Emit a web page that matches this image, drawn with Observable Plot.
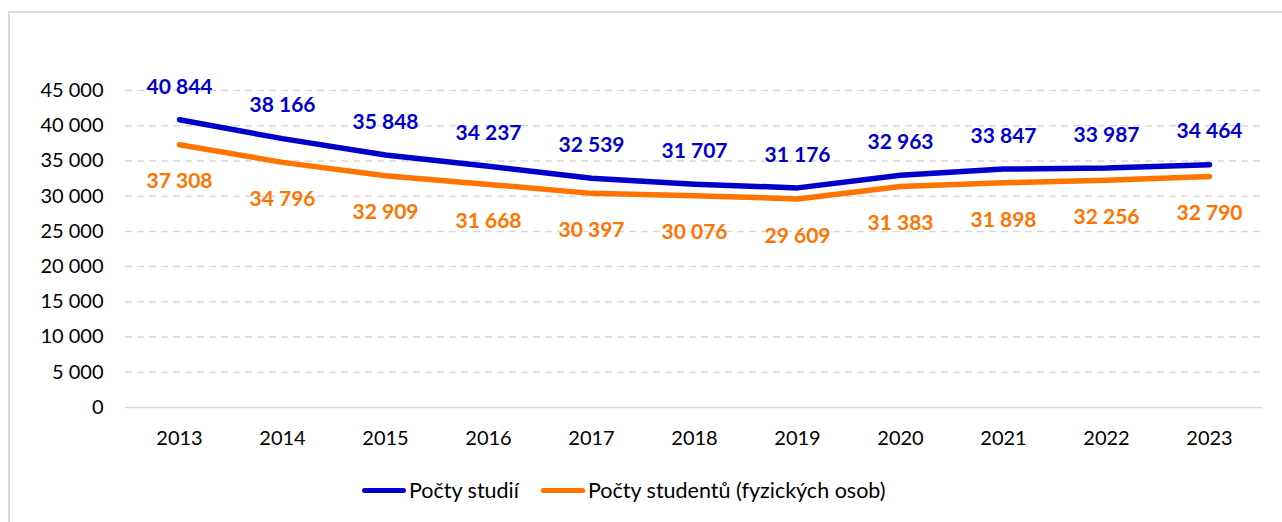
<!DOCTYPE html>
<html><head><meta charset="utf-8">
<script src="https://cdn.jsdelivr.net/npm/d3@7"></script>
<script src="https://cdn.jsdelivr.net/npm/@observablehq/plot@0.6"></script>
<style>
html,body{margin:0;padding:0;background:#fff;}
#frame{position:absolute;left:8px;top:11px;width:1290px;height:530px;border:2px solid #d9d9d9;box-sizing:border-box;}
#chart{position:absolute;left:0;top:0;}
#legend{position:absolute;left:0;top:477px;width:1282px;font-family:Lato,"Open Sans",sans-serif;font-size:21.5px;color:#000;}
.item{position:absolute;display:flex;align-items:center;}
.sw{display:inline-block;width:44px;height:5px;border-radius:3px;margin-right:3px;}
</style></head>
<body>
<div id="frame"></div>
<div id="chart"></div>
<div id="legend"></div>
<script>
const years = ["2013","2014","2015","2016","2017","2018","2019","2020","2021","2022","2023"];
const studia = [40844,38166,35848,34237,32539,31707,31176,32963,33847,33987,34464];
const studenti = [37308,34796,32909,31668,30397,30076,29609,31383,31898,32256,32790];
const seriesNames = ["Počty studií","Počty studentů (fyzických osob)"];
const colors = ["#0000CC","#FF7300"];
const yTicks = [0,5000,10000,15000,20000,25000,30000,35000,40000,45000];

const fmt = v => d3.format(",")(v).replace(/,/g, " ");
const rows = [];
years.forEach((y,i)=>{rows.push({year:y,value:studia[i],s:seriesNames[0]});});
years.forEach((y,i)=>{rows.push({year:y,value:studenti[i],s:seriesNames[1]});});
const A = rows.filter(d=>d.s===seriesNames[0]);
const B = rows.filter(d=>d.s===seriesNames[1]);

const font = "Lato, 'Open Sans', sans-serif";
const plot = Plot.plot({
  width:1282, height:460,
  marginTop:90, marginBottom:53, marginLeft:125, marginRight:20,
  style:{fontFamily:font, fontSize:"20px", color:"#000", background:"transparent"},
  x:{type:"point", domain:years, padding:0.5, label:null},
  y:{domain:[0,45000], label:null},
  color:{domain:seriesNames, range:colors},
  marks:[
    Plot.ruleY(yTicks.filter(t=>t>0), {stroke:"#d9d9d9", strokeWidth:1.5, strokeDasharray:"7,5", strokeOpacity:1}),
    Plot.ruleY([0], {stroke:"#d9d9d9", strokeWidth:1.5}),
    Plot.axisY({ticks:yTicks, tickFormat:fmt, tickSize:0, tickPadding:22, fontSize:20}),
    Plot.axisX({tickSize:0, tickPadding:23, fontSize:20}),
    Plot.line(rows, {x:"year", y:"value", z:"s", stroke:"s", strokeWidth:5.5, strokeLinecap:"round", strokeLinejoin:"round"}),
    Plot.text(A, {x:"year", y:"value", text:d=>fmt(d.value), dy:-33, fill:colors[0], fontWeight:"bold", fontSize:21}),
    Plot.text(B, {x:"year", y:"value", text:d=>fmt(d.value), dy:37, fill:colors[1], fontWeight:"bold", fontSize:21})
  ]
});
document.getElementById("chart").appendChild(plot);

const lg = document.getElementById("legend");
const lefts = [362,541];
seriesNames.forEach((n,i)=>{
  const it = document.createElement("div");
  it.className="item"; it.style.left=lefts[i]+"px";
  it.innerHTML = `<span class="sw" style="background:${colors[i]}"></span><span>${n}</span>`;
  lg.appendChild(it);
});
</script>
</body></html>
